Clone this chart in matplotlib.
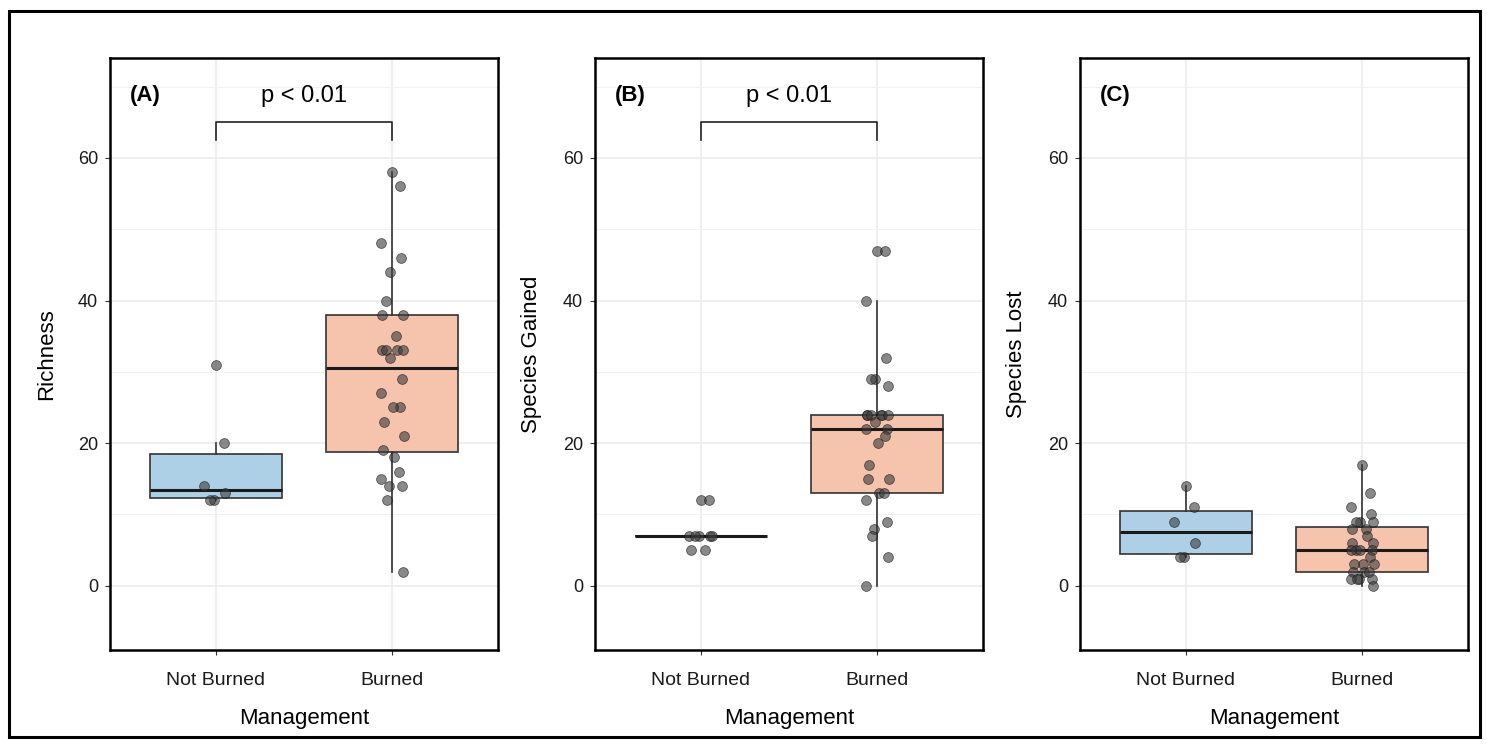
import numpy as np
import matplotlib
matplotlib.use("Agg")
import matplotlib.pyplot as plt
from matplotlib.patches import Rectangle

plt.rcParams['font.family'] = ['Liberation Sans', 'DejaVu Sans']

categories = ["Not Burned", "Burned"]

richness_not_burned = [31, 20, 14, 13, 12, 12]
richness_burned = [58, 56, 48, 46, 44, 40, 38, 38, 35, 33, 33, 33, 33, 32, 29, 27,
                   25, 25, 23, 21, 19, 18, 16, 15, 14, 14, 12, 2]

gained_not_burned = [12, 12, 7, 7, 7, 7, 7, 5, 5]
gained_burned = [47, 47, 40, 32, 29, 29, 28, 24, 24, 24, 24, 24, 24, 23, 22, 22,
                 21, 20, 17, 15, 15, 13, 13, 12, 9, 8, 7, 4, 0]

lost_not_burned = [14, 11, 9, 6, 4, 4]
lost_burned = [17, 13, 11, 10, 9, 9, 9, 8, 8, 7, 6, 6, 5, 5, 5, 5, 4, 3, 3, 3,
               2, 2, 2, 1, 1, 1, 1, 0]

panel_letters = ["(A)", "(B)", "(C)"]
y_titles = ["Richness", "Species Gained", "Species Lost"]
p_labels = ["p < 0.01", "p < 0.01", None]
y_ticks = [0, 20, 40, 60]
x_title = "Management"

panels = [
    (richness_not_burned, richness_burned),
    (gained_not_burned, gained_burned),
    (lost_not_burned, lost_burned),
]

fill_colors = ["#aed0e7", "#f6c3ad"]
W, H = 1487, 748
fig = plt.figure(figsize=(W / 100, H / 100), dpi=100)

# outer frame
fig.patches.append(Rectangle((9 / W, 11 / H), (1480 - 9) / W, (737 - 11) / H,
                             transform=fig.transFigure, fill=False,
                             edgecolor="black", linewidth=2.2, zorder=0))

lefts = [110, 595, 1080]
ax_w = 388
top_px, bot_px = 58, 650

for k, (nb, b) in enumerate(panels):
    ax = fig.add_axes([lefts[k] / W, (H - bot_px) / H, ax_w / W, (bot_px - top_px) / H])
    bp = ax.boxplot([nb, b], positions=[1, 2], widths=0.75, patch_artist=True,
                    showfliers=False, showcaps=False, whis=1.5,
                    medianprops=dict(color="#1a1a1a", linewidth=2.2),
                    whiskerprops=dict(color="#333333", linewidth=1.2),
                    boxprops=dict(edgecolor="#333333", linewidth=1.2),
                    zorder=2)
    for patch, c in zip(bp["boxes"], fill_colors):
        patch.set_facecolor(c)

    for pos, vals in zip([1, 2], [nb, b]):
        idx = np.arange(len(vals))
        offs = 0.065 * np.sin(idx * 2.39996)
        ax.scatter(pos + offs, vals, s=50, color="#3a3a3a", alpha=0.6,
                   edgecolors="#111111", linewidths=0.6, zorder=3)

    ax.set_xlim(0.4, 2.6)
    ax.set_ylim(-9, 74)
    ax.set_yticks(y_ticks)
    ax.set_yticks([10, 30, 50, 70], minor=True)
    ax.set_xticks([1, 2])
    ax.set_xticklabels(categories)
    ax.grid(True, which="major", color="#ebebeb", linewidth=1.1, zorder=0)
    ax.grid(True, which="minor", axis="y", color="#f1f1f1", linewidth=0.7, zorder=0)
    ax.set_axisbelow(True)
    ax.tick_params(axis="both", which="major", length=3.5, width=0.8, color="#333333",
                   labelsize=14, labelcolor="#1a1a1a", pad=5)
    ax.tick_params(axis="y", labelsize=13)
    ax.tick_params(axis="x", pad=12)
    ax.tick_params(axis="y", which="minor", length=0)
    for s in ax.spines.values():
        s.set_linewidth(1.8)
        s.set_color("black")

    ax.set_ylabel(y_titles[k], fontsize=16, labelpad=15)
    ax.set_xlabel(x_title, fontsize=16, labelpad=14)
    ax.text(0.052, 0.9375, panel_letters[k], transform=ax.transAxes, fontsize=16,
            fontweight="bold", va="center", ha="left")
    if p_labels[k]:
        ax.plot([1, 1, 2, 2], [62.5, 65, 65, 62.5], color="#222222", linewidth=1.2)
        ax.text(1.5, 68.7, p_labels[k], fontsize=17, ha="center", va="center")

fig.savefig("out.png", dpi=100)
